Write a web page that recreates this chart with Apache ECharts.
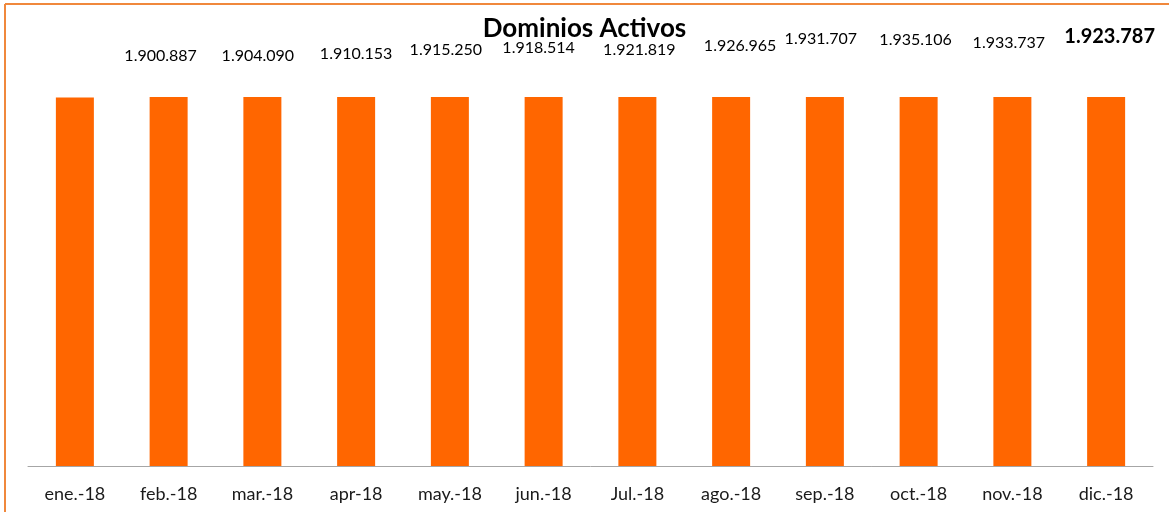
<!DOCTYPE html>
<html>
<head>
<meta charset="utf-8">
<script src="https://cdn.jsdelivr.net/npm/echarts@6/dist/echarts.min.js"></script>
<style>
  html, body { margin: 0; padding: 0; background: #ffffff; }
  #main { width: 1169px; height: 512px; }
</style>
</head>
<body>
<div id="main"></div>
<script>
var months = ['ene.-18', 'feb.-18', 'mar.-18', 'apr-18', 'may.-18', 'jun.-18',
              'Jul.-18', 'ago.-18', 'sep.-18', 'oct.-18', 'nov.-18', 'dic.-18'];
// ene. has no label in the picture, its value is a guess
var dominios = [1898000, 1900887, 1904090, 1910153, 1915250, 1918514,
                1921819, 1926965, 1931707, 1935106, 1933737, 1923787];
var showLabel = [false, true, true, true, true, true, true, true, true, true, true, true];

// the labels were nudged by hand in the original sheet
var labelNudge = [[0, 0], [-8, 6.5], [-4.5, 7], [0, 4.5], [-4, 1], [-5, -1.5],
                  [2, 1], [9, -3], [-4, -10], [-3, -9.5], [-3.5, -6], [3.5, -10.5]];

var myChart = echarts.init(document.getElementById('main'));

var barData = dominios.map(function (v, i) {
    var last = i === dominios.length - 1;
    return {
        value: v,
        label: {
            show: showLabel[i],
            offset: labelNudge[i],
            fontSize: last ? 20 : 16,
            fontWeight: last ? 'bold' : 'normal'
        }
    };
});

myChart.setOption({
    backgroundColor: '#ffffff',
    animation: false,
    title: {
        text: 'Dominios Activos',
        left: 'center',
        top: 11,
        textStyle: {
            fontFamily: 'Lato',
            fontSize: 26,
            fontWeight: 'bold',
            color: '#000000'
        }
    },
    graphic: [
        { type: 'line', shape: { x1: 5, y1: 4, x2: 1169, y2: 4 }, style: { stroke: '#f0883c', lineWidth: 2 } },
        { type: 'line', shape: { x1: 5, y1: 4, x2: 5, y2: 512 }, style: { stroke: '#f0883c', lineWidth: 2 } }
    ],
    grid: {
        left: 28,
        right: 16,
        top: 97,
        bottom: 46
    },
    xAxis: {
        type: 'category',
        data: months,
        axisLine: { lineStyle: { color: '#a6a6a6', width: 1 } },
        axisTick: { show: false },
        axisLabel: {
            margin: 19,
            fontFamily: 'Lato',
            fontSize: 18,
            color: '#1a1a1a'
        }
    },
    yAxis: {
        type: 'value',
        min: 0,
        max: 1900000,
        show: false,
        splitLine: { show: false }
    },
    series: [{
        name: 'Dominios Activos',
        type: 'bar',
        data: barData,
        barWidth: 38,
        clip: true,
        itemStyle: { color: '#ff6600' },
        label: {
            show: true,
            position: 'top',
            distance: 40,
            fontFamily: 'Lato',
            color: '#000000',
            formatter: function (p) {
                return String(p.value).replace(/\B(?=(\d{3})+(?!\d))/g, '.');
            }
        }
    }]
});
</script>
</body>
</html>
